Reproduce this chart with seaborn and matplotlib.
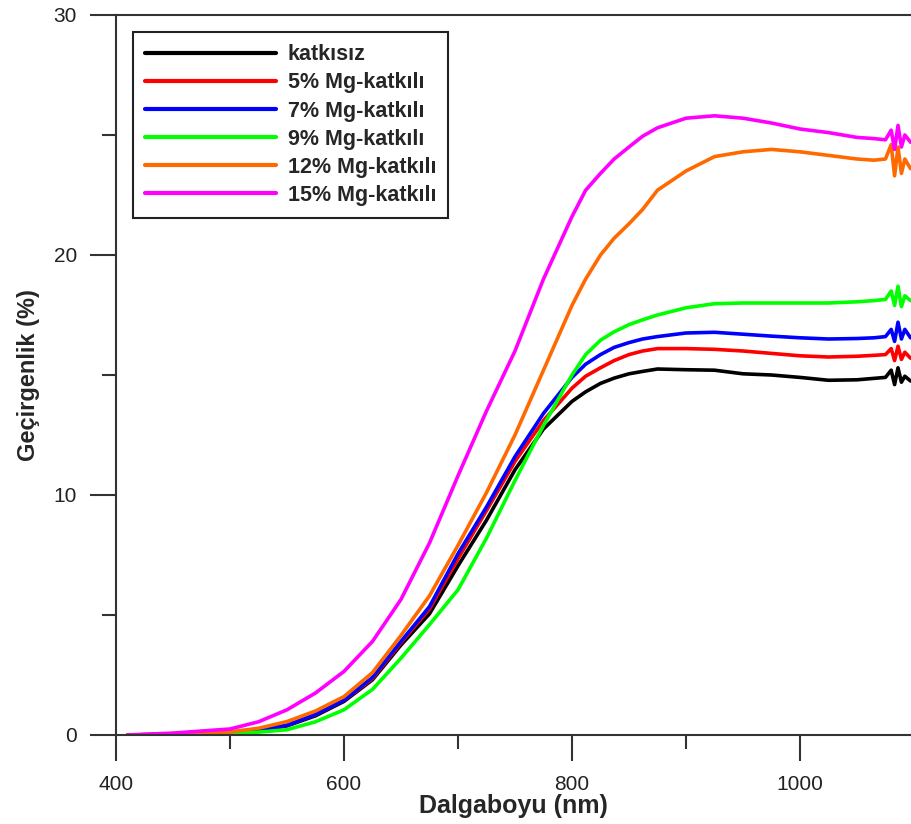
import numpy as np
import pandas as pd
import matplotlib
matplotlib.use("Agg")
import matplotlib.pyplot as plt
from matplotlib.ticker import MultipleLocator
import seaborn as sns

# wavelength grid (nm)
wl = [410, 450, 500, 525, 550, 575, 600, 625, 650, 675,
      700, 725, 750, 775, 800, 812, 825, 837, 850, 862,
      875, 900, 925, 950, 975, 1000, 1025, 1050, 1065, 1075,
      1080, 1083, 1086, 1089, 1092, 1097]

katkisiz = [0.0, 0.03, 0.10, 0.20, 0.38, 0.80, 1.40, 2.30, 3.75, 5.05,
            7.05, 8.95, 11.05, 12.75, 13.90, 14.30, 14.65, 14.87, 15.05, 15.15,
            15.25, 15.22, 15.20, 15.05, 15.00, 14.90, 14.78, 14.80, 14.86, 14.90,
            15.20, 14.60, 15.30, 14.70, 14.95, 14.75]
mg5 = [0.0, 0.03, 0.10, 0.20, 0.40, 0.85, 1.45, 2.35, 3.85, 5.25,
       7.35, 9.35, 11.40, 13.10, 14.45, 14.95, 15.30, 15.60, 15.85, 16.00,
       16.10, 16.10, 16.07, 16.00, 15.90, 15.80, 15.75, 15.78, 15.82, 15.85,
       16.10, 15.60, 16.20, 15.65, 15.95, 15.70]
mg7 = [0.0, 0.03, 0.10, 0.20, 0.40, 0.85, 1.45, 2.40, 3.90, 5.35,
       7.55, 9.50, 11.60, 13.40, 14.90, 15.45, 15.85, 16.15, 16.35, 16.50,
       16.60, 16.75, 16.78, 16.70, 16.62, 16.55, 16.50, 16.52, 16.55, 16.60,
       16.90, 16.40, 17.20, 16.50, 16.90, 16.55]
mg9 = [0.0, 0.02, 0.07, 0.12, 0.22, 0.55, 1.05, 1.90, 3.20, 4.60,
       6.05, 8.20, 10.60, 12.90, 15.00, 15.85, 16.45, 16.80, 17.10, 17.30,
       17.50, 17.80, 17.97, 18.00, 18.00, 18.00, 18.00, 18.05, 18.10, 18.15,
       18.50, 17.90, 18.70, 17.85, 18.30, 18.10]
mg12 = [0.0, 0.04, 0.13, 0.28, 0.56, 1.00, 1.60, 2.60, 4.15, 5.80,
        7.90, 10.10, 12.50, 15.20, 17.90, 19.00, 20.00, 20.70, 21.30, 21.90,
        22.70, 23.50, 24.10, 24.30, 24.40, 24.30, 24.15, 24.00, 23.95, 24.00,
        24.60, 23.30, 24.50, 23.40, 24.00, 23.60]
mg15 = [0.0, 0.08, 0.25, 0.55, 1.05, 1.75, 2.65, 3.90, 5.65, 8.00,
        10.80, 13.50, 16.00, 19.00, 21.60, 22.70, 23.40, 24.00, 24.50, 24.95,
        25.30, 25.70, 25.80, 25.70, 25.50, 25.25, 25.10, 24.90, 24.85, 24.80,
        25.20, 24.40, 25.40, 24.50, 25.00, 24.70]

labels = ["katkısız", "5% Mg-katkılı", "7% Mg-katkılı", "9% Mg-katkılı",
          "12% Mg-katkılı", "15% Mg-katkılı"]
colors = ["#000000", "#ff0000", "#0000ff", "#00ff00", "#ff6a00", "#ff00ff"]

df = pd.concat([pd.DataFrame({"wl": wl, "T": v, "s": lab})
                for v, lab in zip([katkisiz, mg5, mg7, mg9, mg12, mg15], labels)])

sns.set_style("ticks")
plt.rcParams["font.family"] = ["Liberation Sans", "DejaVu Sans"]

fig = plt.figure(figsize=(9.11, 8.24), dpi=100)
ax = fig.add_axes([116 / 911, 89 / 824, 795 / 911, 720 / 824])

sns.lineplot(data=df, x="wl", y="T", hue="s", hue_order=labels,
             palette=dict(zip(labels, colors)), estimator=None, sort=False,
             linewidth=2.6, ax=ax)

ax.set_xlim(400, 1097.4)
ax.set_ylim(0, 30)
ax.xaxis.set_major_locator(MultipleLocator(200))
ax.xaxis.set_minor_locator(MultipleLocator(100))
ax.yaxis.set_major_locator(MultipleLocator(10))
ax.yaxis.set_minor_locator(MultipleLocator(5))

ax.spines["right"].set_visible(False)
for sp in ["left", "bottom", "top"]:
    ax.spines[sp].set_color("#333333")
    ax.spines[sp].set_linewidth(1.5)
ax.tick_params(which="major", direction="out", length=19, width=1.5,
               color="#333333", labelsize=15, labelcolor="#222222")
ax.tick_params(axis="x", which="major", pad=10)
ax.tick_params(axis="y", which="major", pad=9)
ax.tick_params(which="minor", direction="out", length=10, width=1.5,
               color="#333333")
ax.tick_params(top=False, right=False, which="both")

ax.set_xlabel("Dalgaboyu (nm)", fontsize=18, fontweight="bold", labelpad=0)
ax.set_ylabel("Geçirgenlik (%)", fontsize=17, fontweight="bold", labelpad=10)

leg = ax.legend(loc="upper left", bbox_to_anchor=(0.021, 0.976),
                borderaxespad=0, frameon=True, fancybox=False,
                prop={"weight": "bold", "size": 15.5}, handlelength=6.1,
                handletextpad=0.55, labelspacing=0.33, borderpad=0.56)
leg.get_frame().set_edgecolor("#222222")
leg.get_frame().set_linewidth(1.5)
leg.get_frame().set_alpha(1)
for h in leg.get_lines():
    h.set_linewidth(3)

fig.savefig("out.png", dpi=100)
